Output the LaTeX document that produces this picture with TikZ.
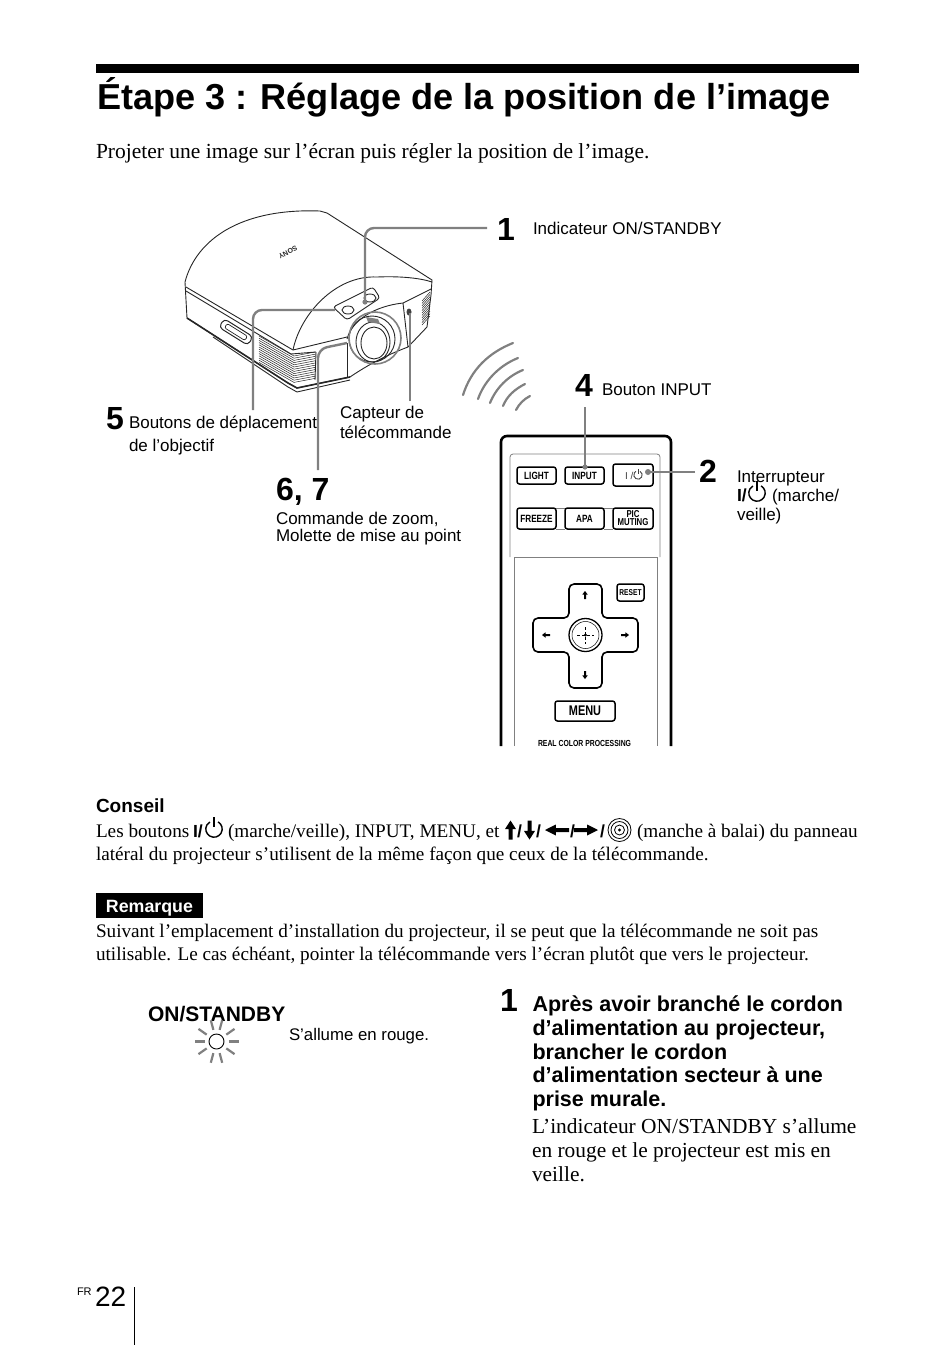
\documentclass[tikz,border=0pt]{standalone}
\usepackage{fontspec}
\setmainfont{Liberation Serif}
\newfontfamily\hv{Liberation Sans}
\newfontfamily\hvc[FakeStretch=0.78]{Liberation Sans}
\definecolor{g5}{gray}{0.5}
\definecolor{g3}{gray}{0.25}
\newcommand{\fs}[1]{\fontsize{#1}{#1}\selectfont}
\tikzset{
  txt/.style={anchor=base west, inner sep=0pt, outer sep=0pt},
  lbl/.style={txt, font=\hv\fs{17}},
  num/.style={txt, font=\hv\bfseries\fs{32}},
  body/.style={txt, font=\fs{19.2}},
  step head/.style={txt, font=\hv\bfseries\fs{21.5}},
  slash/.style={txt, font=\hv\bfseries\fs{17.5}},
  callout/.style={draw=g5, line width=2.4, rounded corners=9},
  wave/.style={g5, line width=2.2, line cap=round},
  rbtn/.style={draw, line width=1.5, rounded corners=2.5, inner sep=0pt, font=\hvc\bfseries\fs{10.5}, align=center},
  pwr/.pic={\draw[line width=#1] (300:1) arc (300:600:1); \draw[line width=#1] (0,-1.45) -- (0,-0.2);},
  pwr/.default=0.12,
  block arrow/.pic={\fill (1,0) -- (0.1,0.55) -- (0.1,0.2) -- (-1,0.2) -- (-1,-0.2) -- (0.1,-0.2) -- (0.1,-0.55) -- cycle;}
}
\begin{document}
\begin{tikzpicture}[x=1pt,y=-1pt]
  \useasboundingbox (0,0) rectangle (950,1345);

  % heading
  \fill (96,64) rectangle (859,73);
  \node[txt, font=\hv\bfseries\fs{36.1}] (title) at (97,109) {Étape 3 : Réglage de la position de l’image};
  \node[body, font=\fs{21.5}] (intro) at (96,158) {Projeter une image sur l’écran puis régler la position de l’image.};

  % projector
  \begin{scope}[line width=0.9, black!85]
    \draw (185,282) .. controls (196,240) and (240,208) .. (320,211) -- (327,213) -- (432,280)
      -- (431,295) -- (427,327) -- (408,347) .. controls (395,352) and (375,360) .. (350,377)
      -- (297,388) -- (288,383) -- (187,318) -- cycle;
    \draw (186,287) -- (293,350) -- (347,337);
    \draw (186,291) -- (291,354) -- (316,352);
    \draw (293,350) .. controls (300,315) and (335,275) .. (377,277) .. controls (400,276) and (420,278) .. (432,282);
    \draw (347,339) .. controls (352,320) and (375,306) .. (403,303) -- (431,289);
    \draw (403,303) -- (408,347);
    \draw (316,352) -- (315,380);
    \draw (347,343) -- (347,377);
    \draw (213,337) -- (288,387) -- (297,392) -- (350,380);
    \draw[line width=1.6] (187,318) -- (288,383) -- (297,388) -- (350,377);
    \draw[line width=1, rotate around={-32:(236,332)}, rounded corners=4] (219,327) rectangle (253,337);
    \draw[line width=0.7, rotate around={-32:(236,332)}, rounded corners=2] (224,329.5) rectangle (248,334.5);
    \foreach \i in {0,...,12} {
      \draw[line width=0.5] (259,{336+2.2*\i}) -- (294,{356+2.2*\i}) -- (315,{352+2.2*\i});
    }
    \foreach \i in {0,...,10} {
      \draw[line width=0.5] (422,{301+2.4*\i}) -- (430,{292+2.4*\i});
    }
    \draw[rounded corners=3] (333,307) -- (373,287) -- (380,298) -- (347,320) -- cycle;
    \draw (348,310) ellipse (6 and 4);
    \draw (370,298) ellipse (6 and 4);
    \draw (373,342) ellipse (17 and 20);
    \draw (374,343) ellipse (13 and 16);
    \draw (372,339) circle (23);
    \fill[g5] (366,317) -- (378,319) -- (380,324) -- (368,322) -- cycle;
    \fill[g3] (409,312) ellipse (2.5 and 3.5);
    \node[font=\hv\bfseries\fs{7}, rotate=208, inner sep=0pt] (sony) at (288,252.5) {SONY};
  \end{scope}
  \draw[g5, line width=1.6] (375,338) circle (26);

  % labels of the projector
  \node[num] (nA) at (497,240) {1};
  \node[lbl] (tA) at (533,234) {Indicateur ON/STANDBY};
  \node[num] (nE) at (106,429) {5};
  \node[lbl] (tE) at (129,428) {Boutons de déplacement};
  \node[lbl] (tEb) at (129,451) {de l’objectif};
  \node[lbl] (tS) at (340,418) {Capteur de};
  \node[lbl] (tSb) at (340,438) {télécommande};
  \node[num] (nF) at (276,500) {6, 7};
  \node[lbl] (tF) at (276,524) {Commande de zoom,};
  \node[lbl] (tFb) at (276,541) {Molette de mise au point};

  \coordinate (cA) at (365,302);
  \coordinate (cAs) at (487,228);
  \coordinate (cE) at (335,310);
  \coordinate (cEs) at (253,410);
  \coordinate (cF) at (347,343);
  \coordinate (cFs) at (318,470);
  \coordinate (cS) at (410,313);
  \coordinate (cSs) at (410,401);
  \draw[callout] (cAs) -| (cA);
  \draw[callout] (cEs) |- (cE);
  \draw[callout] (cFs) -- (318,349) -- (cF);
  \draw[callout] (cSs) -- (cS);
  \fill[g5] (cA) circle (2.6);

  % signal
  \draw[wave] (463,395) .. controls (471,370) and (488,353) .. (513,343);
  \draw[wave] (478,399) .. controls (484,382) and (498,366) .. (518,358);
  \draw[wave] (490,403) .. controls (496,388) and (508,376) .. (523,370);
  \draw[wave] (503,406) .. controls (507,396) and (515,389) .. (525,384);
  \draw[wave] (516,410) .. controls (519,404) and (524,399) .. (530,396);

  % remote
  \draw[line width=2.6, rounded corners=6] (501,746) -- (501,436) -- (671,436) -- (671,746);
  \draw[g5, line width=0.8, rounded corners=3] (510,557) -- (510,454) -- (660,454) -- (660,557);
  \draw[g5, line width=0.8] (514,746) -- (514,557) -- (657,557) -- (657,746);
  \draw[g5, line width=0.8] (556,508) -- (565,508) (556,529) -- (565,529) (604,508) -- (613,508) (604,529) -- (613,529);
  \node[rbtn, minimum width=39, minimum height=17] (light) at (536.5,475.5) {LIGHT};
  \node[rbtn, minimum width=39, minimum height=17] (input) at (584.5,475.5) {INPUT};
  \node[rbtn, minimum width=40, minimum height=22] (onoff) at (633,475) {};
  \node[rbtn, minimum width=39, minimum height=21] (freeze) at (536.5,518.5) {FREEZE};
  \node[rbtn, minimum width=39, minimum height=21] (apa) at (584.5,518.5) {APA};
  \node[rbtn, minimum width=40, minimum height=21, font=\hvc\bfseries\fs{10}] (mute) at (633,518.5) {PIC\\[-2pt]MUTING};
  \node[rbtn, minimum width=27, minimum height=17, font=\hvc\bfseries\fs{8.5}] (reset) at (630.5,592.5) {RESET};
  \node[rbtn, minimum width=60, minimum height=20, font=\hvc\bfseries\fs{14}] (menu) at (585,711) {MENU};
  \node[txt, font=\hvc\bfseries\fs{8.8}] (rcp) at (538,746) {REAL COLOR PROCESSING};
  \draw[line width=1.6, rounded corners=5] (569,602) -- (569,584) -- (602,584) -- (602,618) -- (638,618) -- (638,652)
    -- (602,652) -- (602,688) -- (569,688) -- (569,652) -- (533,652) -- (533,618) -- (569,618) -- cycle;
  \node[circle, draw, line width=1.3, minimum size=33, inner sep=0pt] (joy) at (585.5,635) {};
  \node[circle, draw, line width=0.5, minimum size=27, inner sep=0pt] (joyb) at (585.5,635) {};
  \fill (joy.center) circle (1.6);
  \draw[line width=0.7, dash pattern=on 3 off 2] (577,635) -- (594,635) (585.5,627) -- (585.5,644);
  \pic[rotate=90, xscale=4, yscale=5] at (585,595) {block arrow};
  \pic[rotate=-90, xscale=4, yscale=5] at (585,675) {block arrow};
  \pic[rotate=180, xscale=4, yscale=5] at (546,635) {block arrow};
  \pic[xscale=4, yscale=5] at (625,635) {block arrow};
  \node[txt, font=\hv\fs{10}, text=g3] (onofftxt) at (625,479) {I /};
  \pic[scale=4.2, g3] at (638,475) {pwr=0.9};

  % labels of the remote
  \node[num] (nD) at (575,396) {4};
  \node[lbl] (tD) at (602,395) {Bouton INPUT};
  \node[num] (nB) at (699,482) {2};
  \node[lbl] (tB) at (737,482) {Interrupteur};
  \node[slash] (tBb) at (737,501) {I/};
  \pic[scale=8.2] at (757,493) {pwr=1.4};
  \node[lbl] (tBc) at (772,501) {(marche/};
  \node[lbl] (tBd) at (737,520) {veille)};
  \coordinate (cD) at (585,467);
  \coordinate (cDs) at (585,407);
  \coordinate (cB) at (648,472);
  \coordinate (cBs) at (695,472);
  \draw[callout] (cDs) -- (cD);
  \draw[callout] (cBs) -- (cB);
  \fill[g5] (cD) circle (2.6) (cB) circle (3);

  % hint
  \node[txt, font=\hv\bfseries\fs{19}] (hint) at (96,812) {Conseil};
  \node[body] (hintA) at (96,837) {Les boutons};
  \node[slash] (hintB) at (193,837) {I/};
  \pic[scale=8.2] at (214,829) {pwr=1.4};
  \node[body] (hintC) at (228,837) {(marche/veille), INPUT, MENU, et};
  \pic[rotate=90, xscale=9.5, yscale=10] at (510.5,830) {block arrow};
  \node[slash] (hintE) at (517,837) {/};
  \pic[rotate=-90, xscale=9.5, yscale=10] at (529.5,830) {block arrow};
  \node[slash] (hintG) at (536,837) {/};
  \pic[rotate=180, xscale=12, yscale=10] at (557,830) {block arrow};
  \node[slash] (hintI) at (570,837) {/};
  \pic[xscale=12, yscale=10] at (586,830) {block arrow};
  \node[slash] (hintK) at (600,837) {/};
  \draw[line width=0.8] (619.5,830) circle (11.5) circle (8.5) circle (5);
  \fill (619.5,830) circle (1.6);
  \node[body] (hintL) at (637,837) {(manche à balai) du panneau};
  \node[body] (hintM) at (96,860) {latéral du projecteur s’utilisent de la même façon que ceux de la télécommande.};

  % note
  \node[fill=black, text=white, font=\hv\bfseries\fs{17.8}, inner sep=0pt, minimum width=107, minimum height=25, text height=17, text depth=3] (note) at (149.5,905.5) {Remarque};
  \node[body] (noteA) at (96,937) {Suivant l’emplacement d’installation du projecteur, il se peut que la télécommande ne soit pas};
  \node[body] (noteB) at (96,960) {utilisable. Le cas échéant, pointer la télécommande vers l’écran plutôt que vers le projecteur.};

  % indicator
  \node[txt, font=\hv\bfseries\fs{21}] (onst) at (148,1021) {ON/STANDBY};
  \node[circle, draw, line width=0.9, minimum size=15, inner sep=0pt] (sun) at (216.5,1041.5) {};
  \begin{scope}[shift={(216.5,1041.5)}]
    \foreach \a in {0,35,75,105,145,180,215,255,285,325} {
      \draw[g5, line width=2.2] (\a:12) -- (\a:22);
    }
  \end{scope}
  \node[lbl, font=\hv\fs{16.8}] (onsttxt) at (289,1040) {S’allume en rouge.};

  % first step
  \node[num] (nStep) at (500,1011) {1};
  \foreach \t/\y/\n in {{Après avoir branché le cordon}/1011/sa, {d’alimentation au projecteur,}/1035/sb, {brancher le cordon}/1059/sc, {d’alimentation secteur à une}/1082/sd, {prise murale.}/1106/se} {
    \node[step head] (\n) at (532.5,\y) {\t};
  }
  \foreach \t/\y/\n in {{L’indicateur ON/STANDBY s’allume}/1133/ta, {en rouge et le projecteur est mis en}/1157/tb, {veille.}/1181/tc} {
    \node[body, font=\fs{21.4}] (\n) at (532,\y) {\t};
  }

  % folio
  \node[txt, font=\hv\fs{11}] (fr) at (77,1295) {FR};
  \node[txt, font=\hv\fs{28}] (folio) at (95,1306) {22};
  \draw[line width=1] (134,1287) -- (134,1345);
\end{tikzpicture}
\end{document}
